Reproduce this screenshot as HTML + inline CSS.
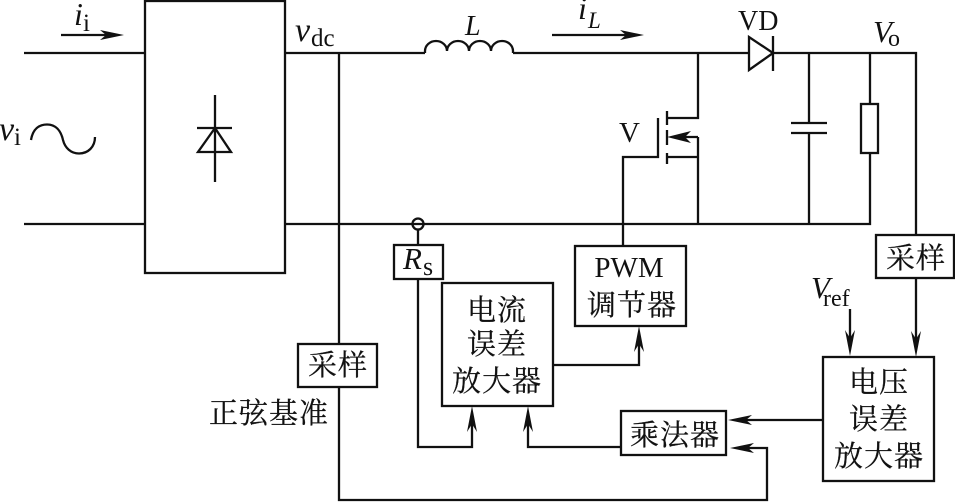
<!DOCTYPE html>
<html><head><meta charset="utf-8"><style>
html,body{margin:0;padding:0;background:#fff;width:955px;height:502px;overflow:hidden}
svg{display:block}
.l{fill:none;stroke:#111;stroke-width:2.3}
.t{fill:#111;stroke:none}
text{fill:#111;font-family:"Liberation Serif","Noto Serif CJK SC",serif}
.c{font-family:"Noto Serif CJK SC","Liberation Serif",serif;font-size:29px;text-anchor:middle;letter-spacing:1px;stroke:#111;stroke-width:.25}
.i{font-style:italic}
</style></head><body>
<svg width="955" height="502" viewBox="0 0 955 502" xmlns="http://www.w3.org/2000/svg">
<rect width="955" height="502" fill="#fff"/>
<g class="l">
<path d="M24 53H145M24 224H145"/>
<rect x="145" y="1" width="140" height="272"/>
<path d="M285 53H425M513 53H749M773 53H916V235"/>
<path d="M425 53V51A11 10 0 0 1 447 51A11 10 0 0 1 469 51A11 10 0 0 1 491 51A11 10 0 0 1 513 51V53"/>
<path d="M285 224H870V153M870 104V53"/>
<path d="M339 53V344M339 387V500H767V448H738"/>
<path d="M215 95V182M197 128H232M215 128L198 152H231Z"/>
<path d="M31 140C33 128 40 124.500 47 124.500C56 124.500 61 131 63 140C65 148 71 153.500 79 153.500C88 153.500 95 147 95 137"/>
<path d="M61 35H112M552 35H632"/>
<path d="M749 37V70L773 53ZM773 36V71"/>
<path d="M698 53V118H667M667 111V125M667 130V145M667 153V164M658 118V157H623V246M698 137V224M698 157H667M698 137H680"/>
<path d="M809 53V123M791 123H827M791 133H827M809 133V224"/>
<rect x="861" y="104" width="17" height="49"/>
<circle cx="418" cy="224" r="5.500"/>
<path d="M418 230V245M418 279V447H472V415"/>
<rect x="394" y="245" width="49" height="34"/>
<rect x="442" y="283" width="111" height="123"/>
<rect x="575" y="246" width="111" height="80"/>
<rect x="298" y="344" width="79" height="43"/>
<rect x="621" y="411" width="105" height="44"/>
<rect x="823" y="357" width="111" height="124"/>
<rect x="876" y="235" width="78" height="43"/>
<path d="M553 365H639V335M621 447H528V415M916 278V348M850 309V348M823 420H738"/>
</g>
<g class="t">
<path d="M124 35L100 30L106 35L100 40ZM644 35L620 30L626 35L620 40Z"/>
<path d="M667 137L691 131L685 137L691 143Z"/>
<path d="M472 406L467 432L472 424L477 432ZM528 406L523 432L528 424L533 432ZM639 326L634 352L639 344L644 352Z"/>
<path d="M850 356L845 330L850 338L855 330ZM916 357L911 331L916 339L921 331Z"/>
<path d="M728 420L752 415L746 420L752 425ZM730 448L754 443L748 448L754 453Z"/>
</g>
<text class="i" x="74" y="25" font-size="32">i</text><text x="83" y="31" font-size="25">i</text>
<text class="i" x="-1" y="140" font-size="34">v</text><text x="14" y="145" font-size="25">i</text>
<text class="i" x="295" y="41" font-size="34">v</text><text x="311" y="46" font-size="25">dc</text>
<text class="i" x="465" y="35" font-size="28">L</text>
<text class="i" x="578" y="19" font-size="32">i</text><text class="i" x="588" y="28" font-size="23">L</text>
<text x="738" y="30" font-size="28">VD</text>
<text class="i" x="873" y="42" font-size="31">V</text><text x="888" y="46" font-size="24">o</text>
<text x="619" y="142" font-size="29">V</text>
<text class="i" x="403" y="269" font-size="31">R</text><text x="423" y="275" font-size="26">s</text>
<text class="i" x="811" y="298" font-size="31">V</text><text x="823" y="306" font-size="24">ref</text>
<text class="c" x="338" y="375">采样</text>
<text class="c" x="916" y="268">采样</text>
<text class="c" x="269" y="423">正弦基准</text>
<text class="c" x="497" y="320">电流</text>
<text class="c" x="497" y="354">误差</text>
<text class="c" x="497" y="391">放大器</text>
<text x="629" y="277" font-size="29" text-anchor="middle">PWM</text>
<text class="c" x="632" y="315">调节器</text>
<text class="c" x="675" y="445">乘法器</text>
<text class="c" x="879" y="392">电压</text>
<text class="c" x="879" y="429">误差</text>
<text class="c" x="879" y="466">放大器</text>
</svg>
</body></html>
